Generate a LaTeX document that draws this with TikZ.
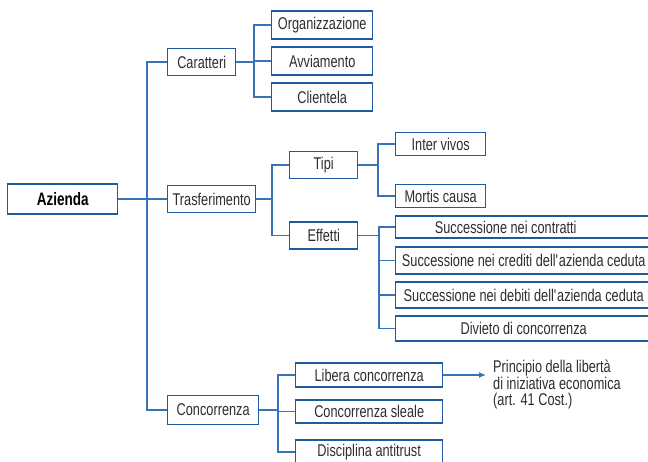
\documentclass[tikz,border=0pt]{standalone}
\usepackage{fontspec}
\setmainfont{Liberation Sans}[FakeStretch=0.75]
\usetikzlibrary{arrows.meta}
\definecolor{boxblue}{RGB}{30,90,160}
\definecolor{lineblue}{RGB}{55,115,185}
\definecolor{ink}{RGB}{45,45,45}

\begin{document}
\begin{tikzpicture}[x=1pt,y=-1pt,
    box/.style={draw=boxblue, line width=1.4pt, text=ink, inner sep=0pt, anchor=west,
      minimum height=27, font=\fontsize{17}{18}\selectfont},
    link/.style={lineblue, line width=1.3pt}]
		\useasboundingbox (0,0) rectangle (648,461);
		\node[box, minimum width=110, minimum height=30, text=black, font=\bfseries\fontsize{18}{19}\selectfont] (azienda) at (7,199) {Azienda};
		\node[box, minimum width=68] (caratteri) at (167,62) {Caratteri};
		\node[box, minimum width=88] (trasferimento) at (167,199) {Trasferimento};
		\node[box, minimum width=91, minimum height=29] (concorrenza) at (167,410) {Concorrenza};
		\node[box, minimum width=101, minimum height=28] (organizzazione) at (271,25) {Organizzazione};
		\node[box, minimum width=101, minimum height=28] (avviamento) at (271,61) {Avviamento};
		\node[box, minimum width=101, minimum height=28] (clientela) at (271,97) {Clientela};
		\node[box, minimum width=68] (tipi) at (289,165) {Tipi};
		\node[box, minimum width=68] (effetti) at (289,235.5) {Effetti};
		\node[box, minimum width=90, minimum height=23] (intervivos) at (395,144) {Inter vivos};
		\node[box, minimum width=90, minimum height=23] (mortis) at (395,196) {Mortis causa};
		\node[box, minimum width=256, minimum height=22] (contratti) at (395,227) {Successione nei contratti\hspace*{36pt}};
		\node[box, minimum width=256] (crediti) at (395,260.5) {Successione nei crediti dell\textquotesingle azienda ceduta};
		\node[box, minimum width=256, minimum height=26] (debiti) at (395,295) {Successione nei debiti dell\textquotesingle azienda ceduta};
		\node[box, minimum width=256, minimum height=25] (divieto) at (395,328.5) {Divieto di concorrenza};
		\node[box, minimum width=147, minimum height=24] (libera) at (295,375) {Libera concorrenza};
		\node[box, minimum width=147, minimum height=23] (sleale) at (295,411.5) {Concorrenza sleale};
		\node[box, minimum width=147, minimum height=24] (disciplina) at (295,452) {Disciplina antitrust};
		\node[anchor=north west, align=left, inner sep=0pt, text=ink, font=\fontsize{17}{15.5}\selectfont] (principio) at (493,360) {Principio della libertà\\di iniziativa economica\\(art. 41 Cost.)};
		\coordinate (b1) at (147,0);
		\coordinate (b2) at (254,0);
		\coordinate (b3) at (272,0);
		\coordinate (b4) at (378,0);
		\coordinate (b5) at (379,0);
		\coordinate (b6) at (278,0);
		\coordinate (tip) at (486,375);
		\draw[link] (azienda.east) -- (azienda.east -| b1);
		\draw[link] (caratteri.west) -- (caratteri.west -| b1) |- (concorrenza.west);
		\draw[link] (trasferimento.west) -- (trasferimento.west -| b1);
		\draw[link] (caratteri.east) -- (caratteri.east -| b2);
		\draw[link] (organizzazione.west) -- (organizzazione.west -| b2) |- (clientela.west);
		\draw[link] (avviamento.west) -- (avviamento.west -| b2);
		\draw[link] (trasferimento.east) -- (trasferimento.east -| b3);
		\draw[link] (tipi.west) -- (tipi.west -| b3) |- (effetti.west);
		\draw[link] (tipi.east) -- (tipi.east -| b4);
		\draw[link] (intervivos.west) -- (intervivos.west -| b4) |- (mortis.west);
		\draw[link] (effetti.east) -- (effetti.east -| b5);
		\draw[link] (contratti.west) -- (contratti.west -| b5) |- (divieto.west);
		\foreach \n in {crediti,debiti}
			\draw[link] (\n.west) -- (\n.west -| b5);
		\draw[link] (concorrenza.east) -- (concorrenza.east -| b6);
		\draw[link] (libera.west) -- (libera.west -| b6) |- (disciplina.west);
		\draw[link] (sleale.west) -- (sleale.west -| b6);
		\draw[link, -{Latex[length=7pt,width=6pt]}] (libera.east) -- (tip);
	\end{tikzpicture}
\end{document}
